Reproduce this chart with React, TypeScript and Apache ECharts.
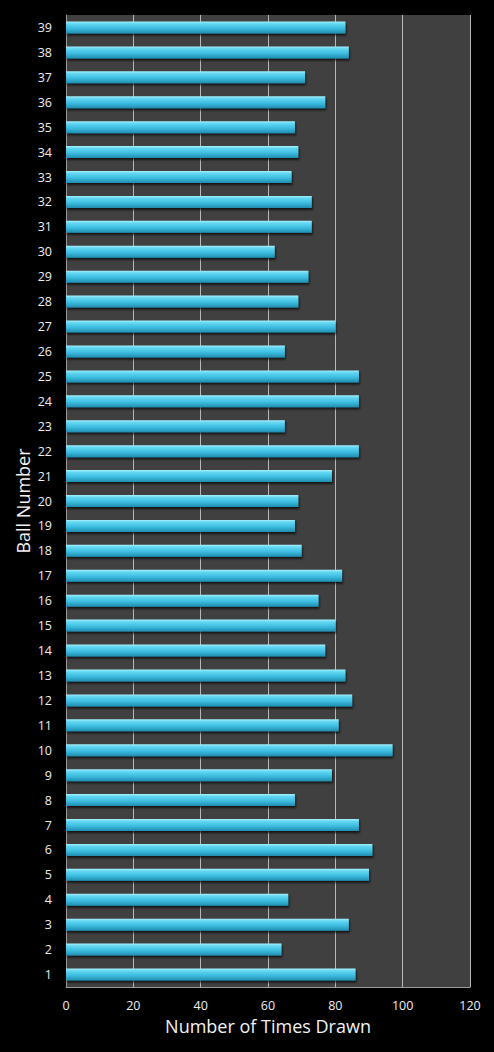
import React, { useEffect, useRef } from "react";
import * as echarts from "echarts";

const ballNumbers: string[] = Array.from({ length: 39 }, (_, i) => String(i + 1));
const timesDrawn: number[] = [
  86, 64, 84, 66, 90, 91, 87, 68, 79, 97,
  81, 85, 83, 77, 80, 75, 82, 70, 68, 69,
  79, 87, 65, 87, 87, 65, 80, 69, 72, 62,
  73, 73, 67, 69, 68, 77, 71, 84, 83,
];
const xTicks = { min: 0, max: 120, interval: 20 };

export default function App() {
  const ref = useRef<HTMLDivElement>(null);
  useEffect(() => {
    document.body.style.margin = "0";
    document.body.style.background = "#000";
    if (!ref.current) return;
    const chart = echarts.init(ref.current, undefined, { renderer: "svg" });
    const font = "'Open Sans', 'DejaVu Sans', sans-serif";
    chart.setOption({
      animation: false,
      backgroundColor: "#000000",
      grid: {
        left: 66,
        right: 24,
        top: 15,
        bottom: 65,
        show: true,
        backgroundColor: "#404040",
        borderWidth: 0,
      },
      xAxis: {
        type: "value",
        min: xTicks.min,
        max: xTicks.max,
        interval: xTicks.interval,
        name: "Number of Times Drawn",
        nameLocation: "middle",
        nameGap: 30,
        nameMoveOverlap: false,
        nameTextStyle: { color: "#f2f2f2", fontSize: 18, fontFamily: font },
        axisLine: { show: true, lineStyle: { color: "#9a9a9a", width: 1 } },
        axisTick: { show: false },
        axisLabel: { color: "#eeeeee", fontSize: 12.5, fontFamily: font, margin: 12 },
        splitLine: { show: true, lineStyle: { color: "#b8b8b8", width: 1 } },
      },
      yAxis: {
        type: "category",
        data: ballNumbers,
        name: "Ball Number",
        nameLocation: "middle",
        nameGap: 34,
        nameMoveOverlap: false,
        nameRotate: 90,
        nameTextStyle: { color: "#f2f2f2", fontSize: 18, fontFamily: font },
        axisLine: { show: true, lineStyle: { color: "#9a9a9a", width: 1 } },
        axisTick: { show: false },
        axisLabel: { color: "#eeeeee", fontSize: 12.5, fontFamily: font, margin: 14 },
        splitLine: { show: false },
      },
      series: [
        {
          type: "bar",
          data: timesDrawn,
          barWidth: 12,
          itemStyle: {
            color: new echarts.graphic.LinearGradient(0, 0, 0, 1, [
              { offset: 0, color: "#a4f0fd" },
              { offset: 0.2, color: "#62d6f1" },
              { offset: 0.55, color: "#3fbfe2" },
              { offset: 1, color: "#1f8db0" },
            ]),
            shadowColor: "rgba(0,0,0,0.7)",
            shadowBlur: 2,
            shadowOffsetX: 1,
            shadowOffsetY: 2,
          },
        },
      ],
    });
    return () => chart.dispose();
  }, []);
  return <div ref={ref} style={{ width: 494, height: 1052 }} />;
}
